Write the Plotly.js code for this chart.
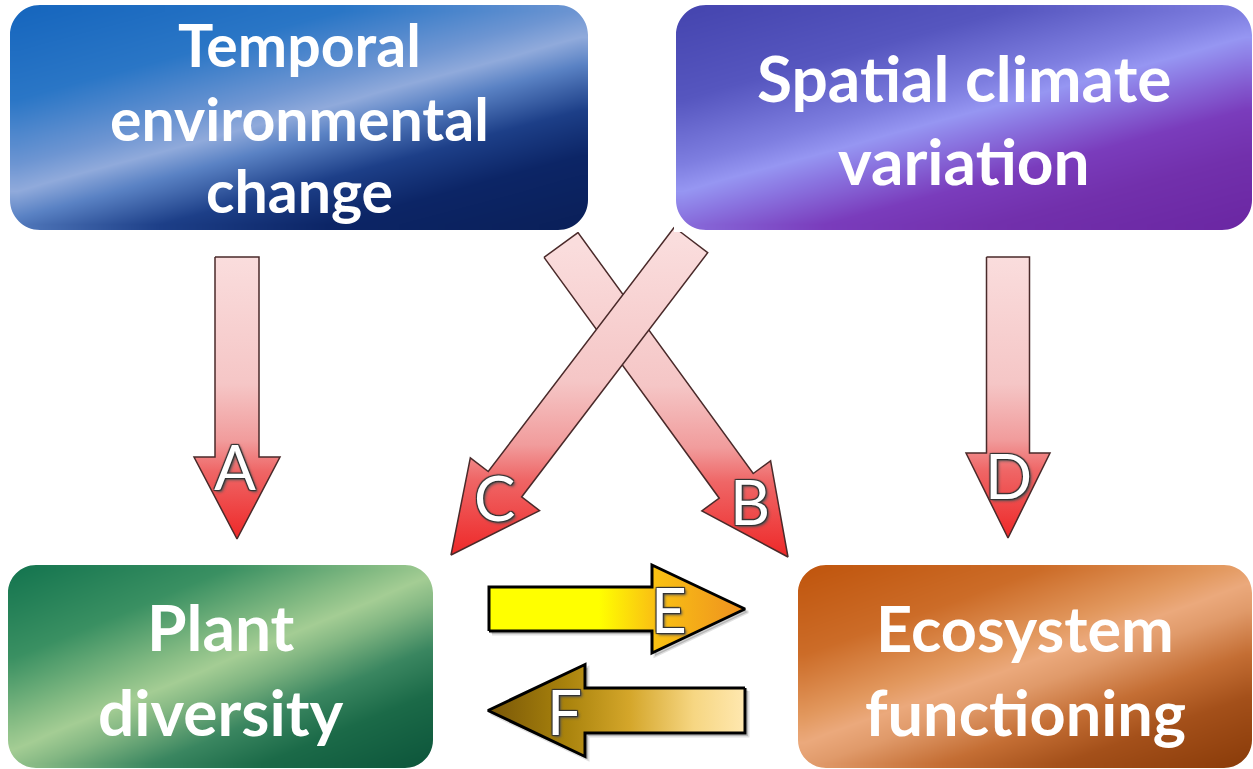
<!DOCTYPE html>
<html>
<head>
<meta charset="utf-8">
<script src="https://cdn.plot.ly/plotly-3.0.1.min.js"></script>
<style>html,body{margin:0;padding:0;background:#fff;}#chart{width:1253px;height:769px;}</style>
</head>
<body>
<div id="chart"></div>
<script>
// ---------- content ----------
const boxNames = ["Temporal environmental change", "Spatial climate variation", "Plant diversity", "Ecosystem functioning"];
const boxLines = [["Temporal", "environmental", "change"], ["Spatial climate", "variation"], ["Plant", "diversity"], ["Ecosystem", "functioning"]];
const arrowLabels = ["A", "B", "C", "D", "E", "F"];

// ---------- layout geometry (pixels of the 1253x769 canvas) ----------
const W = 1253, H = 769;
const boxGeom = [
  {x0: 10, x1: 588, y0: 5, y1: 230, r: 30, lineY: [44, 118, 190], fs: 59},
  {x0: 676, x1: 1252, y0: 5, y1: 230, r: 30, lineY: [77, 160], fs: 64},
  {x0: 8, x1: 433, y0: 565, y1: 768, r: 28, lineY: [626, 711], fs: 64},
  {x0: 798, x1: 1252, y0: 565, y1: 768, r: 28, lineY: [627, 711], fs: 63}
];
const boxStyle = [
  {a: 0.7, cs: [[0,'#1565bd'],[0.25,'#2a76c6'],[0.42,'#6d95d2'],[0.49,'#90aadb'],[0.56,'#5a82c4'],[0.68,'#1d3f88'],[0.8,'#0c2566'],[1,'#0a1f58']]},
  {a: 0.7, cs: [[0,'#4444ae'],[0.25,'#5656bf'],[0.42,'#7e7ee0'],[0.49,'#9696f2'],[0.56,'#8a74e0'],[0.68,'#7a3cbc'],[0.8,'#7230ac'],[1,'#6a26a2']]},
  {a: 0.87, cs: [[0,'#12734e'],[0.25,'#3a9062'],[0.42,'#86bc84'],[0.49,'#a4cd94'],[0.56,'#82b682'],[0.68,'#3a8660'],[0.8,'#1b6a48'],[1,'#0c543a']]},
  {a: 0.8, cs: [[0,'#bf540c'],[0.25,'#cc6c28'],[0.42,'#e2985e'],[0.49,'#eba97c'],[0.56,'#e09a6a'],[0.68,'#c46e34'],[0.8,'#a4501a'],[1,'#883a08']]}
];
// arrows: tail, tip, shaft width, head width, head length, label position
const arrowGeom = {
  A: {tail: [237, 257], tip: [237, 539], sw: 44, hw: 86, hl: 82, lab: [235, 466]},
  D: {tail: [1008, 257], tip: [1008, 538], sw: 43, hw: 84, hl: 85, lab: [1008, 475]},
  B: {tail: [561, 245], tip: [788, 557], sw: 42, hw: 85, hl: 88, lab: [750, 501]},
  C: {tail: [691, 240], tip: [451, 555], sw: 42, hw: 87, hl: 89, lab: [494, 497]},
  E: {tail: [489, 609], tip: [745, 609], sw: 44, hw: 88, hl: 93, lab: [669, 609]},
  F: {tail: [745, 710.5], tip: [488, 710.5], sw: 45, hw: 92, hl: 97, lab: [564, 711]}
};
const redScale = [[0,'#fadddd'],[0.45,'#f5c6c6'],[0.65,'#f19c9c'],[0.76,'#ef6666'],[1,'#ee2828']];
const arrowStyle = {
  A: {grad: 'vertical', cs: redScale, line: '#4a2a2a', lw: 1.5},
  D: {grad: 'vertical', cs: redScale, line: '#4a2a2a', lw: 1.5},
  B: {grad: 'vertical', cs: redScale, line: '#4a2a2a', lw: 1.5},
  C: {grad: 'vertical', cs: redScale, line: '#4a2a2a', lw: 1.5},
  E: {grad: 'horizontal', cs: [[0,'#ffff00'],[0.43,'#ffff00'],[0.63,'#fac412'],[1,'#ee9020']], line: '#000', lw: 3, shadow: true},
  F: {grad: 'horizontal', cs: [[0,'#785608'],[0.3,'#a8820c'],[0.55,'#d4a62a'],[0.8,'#f6d682'],[1,'#ffe8b0']], line: '#000', lw: 3, shadow: true}
};
const drawOrder = ["A", "D", "B", "C", "E", "F"];

// ---------- build ----------
const traces = [];
const shapes = [];
const annotations = [];

boxGeom.forEach((g, k) => {
  const nx = 40, ny = 20;
  const w = g.x1 - g.x0, h = g.y1 - g.y0, a = boxStyle[k].a;
  const xs = [], ys = [], z = [];
  for (let i = 0; i < nx; i++) xs.push(g.x0 + (i + 0.5) * w / nx);
  for (let j = 0; j < ny; j++) {
    ys.push(g.y0 + (j + 0.5) * h / ny);
    const row = [];
    for (let i = 0; i < nx; i++) {
      const u = (i + 0.5) / nx, v = (j + 0.5) / ny;
      row.push((a * u + v) / (a + 1));
    }
    z.push(row);
  }
  traces.push({type: 'heatmap', x: xs, y: ys, z: z, zmin: 0, zmax: 1, zsmooth: 'best',
    colorscale: boxStyle[k].cs, showscale: false, hoverinfo: 'skip', name: boxNames[k]});
  // rounded corner masks
  const r = g.r, c = 0.5523 * r, e = 2;
  const corners = [
    `M ${g.x0-e},${g.y0-e} L ${g.x0+r},${g.y0-e} L ${g.x0+r},${g.y0} C ${g.x0+r-c},${g.y0} ${g.x0},${g.y0+r-c} ${g.x0},${g.y0+r} L ${g.x0-e},${g.y0+r} Z`,
    `M ${g.x1+e},${g.y0-e} L ${g.x1-r},${g.y0-e} L ${g.x1-r},${g.y0} C ${g.x1-r+c},${g.y0} ${g.x1},${g.y0+r-c} ${g.x1},${g.y0+r} L ${g.x1+e},${g.y0+r} Z`,
    `M ${g.x0-e},${g.y1+e} L ${g.x0+r},${g.y1+e} L ${g.x0+r},${g.y1} C ${g.x0+r-c},${g.y1} ${g.x0},${g.y1-r+c} ${g.x0},${g.y1-r} L ${g.x0-e},${g.y1-r} Z`,
    `M ${g.x1+e},${g.y1+e} L ${g.x1-r},${g.y1+e} L ${g.x1-r},${g.y1} C ${g.x1-r+c},${g.y1} ${g.x1},${g.y1-r+c} ${g.x1},${g.y1-r} L ${g.x1+e},${g.y1-r} Z`
  ];
  corners.forEach(p => shapes.push({type: 'path', path: p, xref: 'x', yref: 'y', fillcolor: '#ffffff', line: {width: 0}, layer: 'above'}));
  const cx = (g.x0 + g.x1) / 2;
  boxLines[k].forEach((t, li) => {
    annotations.push({x: cx, y: g.lineY[li], xref: 'x', yref: 'y', text: t, showarrow: false,
      xanchor: 'center', yanchor: 'middle',
      font: {family: 'Lato, "Open Sans", sans-serif', size: g.fs, color: '#ffffff', weight: 700}});
  });
});

function arrowPoly(g) {
  const dx = g.tip[0] - g.tail[0], dy = g.tip[1] - g.tail[1];
  const L = Math.hypot(dx, dy), ux = dx / L, uy = dy / L, nx = -uy, ny = ux;
  const bx = g.tip[0] - ux * g.hl, by = g.tip[1] - uy * g.hl;
  const s = g.sw / 2, hh = g.hw / 2;
  const pts = [
    [g.tail[0] + nx * s, g.tail[1] + ny * s],
    [bx + nx * s, by + ny * s],
    [bx + nx * hh, by + ny * hh],
    [g.tip[0], g.tip[1]],
    [bx - nx * hh, by - ny * hh],
    [bx - nx * s, by - ny * s],
    [g.tail[0] - nx * s, g.tail[1] - ny * s]
  ];
  pts.push(pts[0]);
  return {x: pts.map(p => p[0]), y: pts.map(p => p[1])};
}

drawOrder.forEach(key => {
  const g = arrowGeom[key], st = arrowStyle[key];
  const poly = arrowPoly(g);
  if (st.shadow) {
    traces.push({type: 'scatter', mode: 'lines', x: poly.x.map(v => v + 3), y: poly.y.map(v => v + 3),
      fill: 'toself', fillcolor: 'rgba(0,0,0,0.18)', line: {color: 'rgba(0,0,0,0.12)', width: 3},
      hoverinfo: 'skip', showlegend: false});
  }
  const vertical = st.grad === 'vertical';
  traces.push({type: 'scatter', mode: 'lines', x: poly.x, y: poly.y, fill: 'toself',
    fillgradient: {type: st.grad, colorscale: st.cs,
      start: vertical ? g.tail[1] : Math.min(g.tail[0], g.tip[0]),
      stop: vertical ? g.tip[1] : Math.max(g.tail[0], g.tip[0])},
    line: {color: st.line, width: st.lw}, hoverinfo: 'skip', showlegend: false, name: 'Arrow ' + key});
  annotations.push({x: g.lab[0], y: g.lab[1], xref: 'x', yref: 'y', text: key, showarrow: false,
    xanchor: 'center', yanchor: 'middle',
    font: {family: 'Lato, "Open Sans", sans-serif', size: 62, color: '#ffffff', weight: 400,
      shadow: '1px 1px 1px #333, -1px -1px 1px #333, 1px -1px 1px #333, -1px 1px 1px #333, 2px 2px 3px #555'}});
});

const layout = {
  width: W, height: H,
  margin: {l: 0, r: 0, t: 0, b: 0, pad: 0},
  paper_bgcolor: '#ffffff', plot_bgcolor: '#ffffff',
  showlegend: false,
  xaxis: {range: [0, W], visible: false, fixedrange: true},
  yaxis: {range: [H, 0], visible: false, fixedrange: true},
  shapes: shapes,
  annotations: annotations
};
Plotly.newPlot('chart', traces, layout, {displayModeBar: false, staticPlot: true});
</script>
</body>
</html>
